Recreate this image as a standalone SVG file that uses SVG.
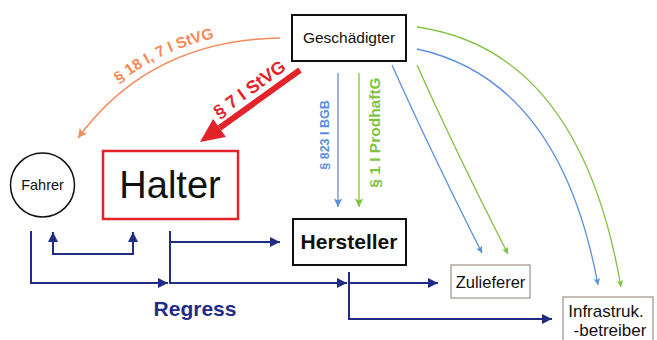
<svg xmlns="http://www.w3.org/2000/svg" width="657" height="340" viewBox="0 0 657 340">
<style>
text{font-family:"Liberation Sans",Arial,sans-serif}
.navy{fill:none;stroke:#1f2d86;stroke-width:2}
.lb{fill:none;stroke:#5b8fdc;stroke-width:1.3}
.gr{fill:none;stroke:#7fc241;stroke-width:1.3}
</style>
<defs>
<marker id="mN" viewBox="0 0 10 10" refX="10" refY="5" markerWidth="6" markerHeight="5" markerUnits="strokeWidth" orient="auto-start-reverse"><path d="M0,0L10,5L0,10z" fill="#1f2d86"/></marker>
<marker id="mB" viewBox="0 0 10 10" refX="10" refY="5" markerWidth="7" markerHeight="6.5" markerUnits="strokeWidth" orient="auto"><path d="M0,0L10,5L0,10L2,5z" fill="#5b8fdc"/></marker>
<marker id="mG" viewBox="0 0 10 10" refX="10" refY="5" markerWidth="7" markerHeight="6.5" markerUnits="strokeWidth" orient="auto"><path d="M0,0L10,5L0,10L2,5z" fill="#7fc241"/></marker>
<marker id="mB2" viewBox="0 0 10 10" refX="10" refY="5" markerWidth="6" markerHeight="5" markerUnits="strokeWidth" orient="auto"><path d="M0,0L10,5L0,10L2,5z" fill="#5b8fdc"/></marker>
<marker id="mG2" viewBox="0 0 10 10" refX="10" refY="5" markerWidth="6" markerHeight="5" markerUnits="strokeWidth" orient="auto"><path d="M0,0L10,5L0,10L2,5z" fill="#7fc241"/></marker>
<marker id="mO" viewBox="0 0 10 10" refX="10" refY="5" markerWidth="7" markerHeight="6" markerUnits="strokeWidth" orient="auto"><path d="M0,0L10,5L0,10L2,5z" fill="#f58a5a"/></marker>
<path id="arcText" d="M73,131 Q146,33 280,30"/>
</defs>
<rect width="657" height="340" fill="#fff"/>
<g id="connectors">
<path d="M280,38 Q150,40 78,138" fill="none" stroke="#f58a5a" stroke-width="1.5" marker-end="url(#mO)"/>
<text font-size="15.5" font-weight="bold" fill="#f58a5a"><textPath href="#arcText" startOffset="50%" text-anchor="middle">§ 18 I, 7 I StVG</textPath></text>
<line x1="300" y1="70" x2="219.5" y2="128" stroke="#e2232a" stroke-width="6"/>
<polygon points="200,142 225.9,136.9 213.1,119.1" fill="#e2232a"/>
<text transform="translate(253,94) rotate(-36)" text-anchor="middle" font-size="18" font-weight="bold" fill="#e2232a">§ 7 I StVG</text>
<line x1="338" y1="73" x2="338" y2="207" class="lb" stroke-width="2" marker-end="url(#mB)"/>
<text transform="translate(329,135) rotate(-90)" text-anchor="middle" font-size="12.5" font-weight="bold" fill="#5b8fdc">§ 823 I BGB</text>
<line x1="359" y1="73" x2="359" y2="207" class="gr" stroke-width="2" marker-end="url(#mG)"/>
<text transform="translate(380,132.5) rotate(-90)" text-anchor="middle" font-size="15.5" font-weight="bold" fill="#7fc241">§ 1 I ProdhaftG</text>
<path d="M392,65 Q430,150 482,253" class="lb" marker-end="url(#mB2)"/>
<path d="M417,65 Q455,150 508,254" class="gr" marker-end="url(#mG2)"/>
<path d="M417,49 Q560,80 598,285" class="lb" marker-end="url(#mB2)"/>
<path d="M417,27 Q580,50 621,287" class="gr" marker-end="url(#mG2)"/>
<path d="M31,231 V283 H168" class="navy" marker-end="url(#mN)"/>
<path d="M53,232 V254 H133 V232" class="navy" marker-start="url(#mN)" marker-end="url(#mN)"/>
<path d="M170,231 V283 H347" class="navy" marker-end="url(#mN)"/>
<path d="M170,242 H280" class="navy" marker-end="url(#mN)"/>
<path d="M349,272 V319 H552" class="navy" marker-end="url(#mN)"/>
<path d="M349,283 H438" class="navy" marker-end="url(#mN)"/>
<text x="195" y="316" text-anchor="middle" font-size="21" font-weight="bold" fill="#1f2d86">Regress</text>
</g>
<g id="geschaedigter">
<rect x="292" y="15" width="114" height="46" fill="#fff" stroke="#111" stroke-width="2"/>
<text x="349" y="43" text-anchor="middle" font-size="15.5" fill="#111">Geschädigter</text>
</g>
<g id="fahrer">
<circle cx="42.5" cy="185" r="32" fill="#fff" stroke="#111" stroke-width="1.5"/>
<text x="42.5" y="190" text-anchor="middle" font-size="14.5" fill="#111">Fahrer</text>
</g>
<g id="halter">
<rect x="103" y="151" width="135" height="68" fill="#fff" stroke="#e2232a" stroke-width="2.5"/>
<text x="170" y="198" text-anchor="middle" font-size="38" fill="#111">Halter</text>
</g>
<g id="hersteller">
<rect x="293" y="219" width="113" height="46" fill="#fff" stroke="#111" stroke-width="2"/>
<text x="349" y="249" text-anchor="middle" font-size="21" font-weight="bold" fill="#111">Hersteller</text>
</g>
<g id="zulieferer">
<rect x="451" y="265" width="79" height="33" fill="#fff" stroke="#8a7a70" stroke-width="1"/>
<text x="490.5" y="288" text-anchor="middle" font-size="16.5" fill="#111">Zulieferer</text>
</g>
<g id="infrastruktur">
<rect x="563" y="297" width="90" height="55" fill="#fff" stroke="#8a7a70" stroke-width="1"/>
<text x="606" y="317" text-anchor="middle" font-size="17" fill="#111">Infrastruk.</text>
<text x="610" y="336" text-anchor="middle" font-size="17" fill="#111">-betreiber</text>
</g>
</svg>
